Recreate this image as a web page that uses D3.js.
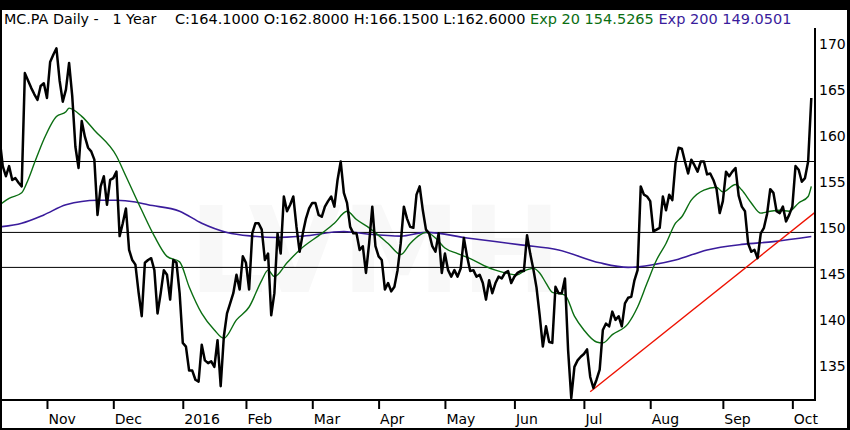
<!DOCTYPE html>
<html>
<head>
<meta charset="utf-8">
<script src="https://cdn.jsdelivr.net/npm/d3@7"></script>
<style>
  body { margin: 0; background: #000; }
  svg { display: block; }
  text { font-family: "DejaVu Sans", sans-serif; }
</style>
</head>
<body>
<svg id="chart" width="850" height="430"></svg>
<script>
// trading calendar (Euronext Paris)
const startDate = "2015-10-12";
const holidays = ["2015-12-25", "2016-01-01", "2016-03-25", "2016-03-28"];

// daily closes
const closes = [
  159.7, 156.7, 155.6, 156.7, 155.2, 155.4, 154.9, 154.5, 166.8, 166.0,
  165.2, 164.5, 163.9, 165.4, 165.7, 164.1, 168.0, 168.8, 169.5, 166.0,
  163.7, 165.0, 167.9, 164.3, 158.8, 156.5, 161.6, 159.9, 158.7, 158.3,
  157.4, 151.4, 154.5, 155.6, 152.5, 155.2, 155.4, 156.1, 149.1, 150.5,
  152.1, 147.6, 146.5, 146.0, 143.0, 140.4, 146.2, 146.5, 146.7, 145.4,
  140.7, 142.9, 145.4, 144.9, 142.2, 146.5, 146.2, 142.9, 137.5, 137.1,
  134.5, 134.5, 133.5, 133.3, 137.3, 135.6, 135.3, 135.5, 134.9, 137.8,
  132.8, 138.2, 140.7, 141.8, 142.9, 144.9, 143.3, 146.9, 146.2, 143.3,
  149.4, 150.5, 150.5, 149.8, 146.5, 147.2, 140.5, 142.9, 149.4, 147.2,
  153.4, 151.8, 152.5, 153.4, 150.1, 147.4, 149.4, 151.0, 152.1, 152.7,
  152.7, 151.4, 151.2, 152.3, 152.9, 153.4, 152.3, 155.2, 157.2, 153.8,
  152.7, 150.1, 149.4, 149.4, 147.6, 148.0, 145.1, 148.3, 152.3, 148.0,
  146.9, 146.5, 143.3, 144.0, 143.1, 143.6, 145.4, 148.3, 152.3, 151.0,
  150.1, 150.0, 153.6, 154.5, 151.9, 149.8, 149.4, 148.0, 147.4, 149.4,
  145.1, 147.2, 145.4, 144.7, 145.4, 144.7, 145.6, 148.9, 146.9, 145.3,
  145.4, 144.7, 144.9, 144.0, 142.2, 144.3, 142.9, 144.0, 144.7, 144.5,
  145.1, 145.3, 144.0, 144.7, 145.1, 145.3, 145.3, 149.2, 147.2, 145.5,
  143.5, 140.5, 137.1, 139.3, 137.6, 137.5, 143.6, 142.9, 142.9, 144.5,
  136.7, 131.5, 134.9, 135.6, 136.0, 136.3, 136.8, 133.8, 132.6, 133.5,
  134.6, 138.9, 139.6, 139.3, 140.9, 140.0, 140.4, 139.3, 141.8, 142.4,
  142.5, 144.3, 145.4, 154.5, 153.6, 153.4, 152.9, 149.6, 149.8, 150.0,
  153.4, 151.9, 153.6, 153.0, 157.0, 158.7, 158.6, 157.2, 155.9, 157.4,
  156.8, 156.1, 157.2, 157.2, 155.8, 155.9, 155.2, 154.2, 151.6, 152.9,
  156.1, 155.6, 156.1, 156.5, 153.5, 152.3, 151.8, 148.3, 147.4, 147.6,
  146.7, 149.4, 150.0, 151.5, 154.2, 153.8, 151.8, 151.6, 152.3, 150.7,
  151.4, 152.3, 156.7, 156.3, 155.0, 155.4, 157.2, 164.1
];

// exponential averages, [trading day, value]
const ema20 = [
  [0, 152.5], [3, 153.2], [7, 153.8], [9, 155.2], [11, 157.0], [14, 159.6], [18, 162.1],
  [21, 162.6], [22, 163.0], [26, 162.1], [30, 160.6], [37, 157.8], [40, 155.6], [45, 151.9],
  [49, 149.1], [53, 146.9], [57, 146.3], [60, 143.6], [64, 140.7], [68, 138.9], [71, 138.0],
  [75, 140.0], [79, 141.4], [83, 144.3], [85, 145.4], [87, 144.7], [91, 146.2], [95, 147.6],
  [102, 149.4], [106, 150.5], [110, 151.8], [113, 150.9], [117, 150.0], [123, 148.3],
  [127, 147.1], [130, 148.3], [133, 149.2], [135, 149.5], [138, 148.9], [141, 147.8],
  [145, 147.2], [150, 146.5], [154, 145.8], [157, 145.4], [160, 145.1], [164, 144.9],
  [166, 145.3], [169, 145.6], [171, 145.1], [173, 144.0], [175, 143.0], [179, 142.7],
  [182, 140.4], [185, 138.9], [189, 137.6], [191, 137.5], [194, 138.4], [199, 139.6],
  [202, 141.4], [205, 144.0], [208, 146.5], [211, 148.3], [214, 150.5], [216, 151.2],
  [219, 153.0], [223, 154.1], [227, 154.4], [229, 153.9], [233, 154.7], [235, 154.1],
  [238, 152.7], [241, 151.6], [244, 151.8], [247, 151.9], [250, 151.8], [253, 152.7],
  [256, 153.4], [257, 154.5]
];
const ema200 = [
  [0, 150.1], [7, 150.5], [14, 151.4], [21, 152.5], [31, 153.0], [37, 153.0], [43, 152.8],
  [47, 152.5], [57, 151.8], [64, 150.5], [72, 149.5], [80, 149.1], [88, 148.95], [96, 149.1],
  [109, 149.6], [117, 149.3], [127, 149.1], [135, 149.5], [148, 148.9], [165, 148.15],
  [177, 147.6], [190, 146.2], [199, 145.7], [207, 146.0], [214, 146.5], [224, 147.6],
  [235, 148.2], [245, 148.5], [257, 149.05]
];

// red trend line through the July low and the September low
const trendPts = [[187, 132.2], [240, 146.7]];
// horizontal support / resistance lines
const levels = [157.2, 149.5, 145.7];

const yTicks = [135, 140, 145, 150, 155, 160, 165, 170];
const monthLabels = ["Nov", "Dec", "2016", "Feb", "Mar", "Apr", "May", "Jun", "Jul", "Aug", "Sep", "Oct"];

const ohlcKeys = ["C", "O", "H", "L"];
const ohlcVals = [164.1, 162.8, 166.15, 162.6];
const emaNames = ["Exp 20", "Exp 200"];
const emaLast = [154.5265, 149.0501];

const W = 850, H = 430;
const plot = { left: 2, right: 815, top: 28, bottom: 400 };
const green = "#0b6e12", purple = "#3a1c9c";

const svg = d3.select("#chart");
svg.append("rect").attr("width", W).attr("height", H).attr("fill", "#000");
svg.append("rect").attr("x", 2).attr("y", 10).attr("width", 845).attr("height", 418).attr("fill", "#fff");

// build trading days
const parse = d3.timeParse("%Y-%m-%d"), fmt = d3.timeFormat("%Y-%m-%d");
const days = [];
let cur = parse(startDate);
while (days.length < closes.length) {
  const wd = cur.getDay();
  if (wd !== 0 && wd !== 6 && !holidays.includes(fmt(cur))) days.push(cur);
  cur = d3.timeDay.offset(cur, 1);
}
const monthStarts = d3.range(1, days.length).filter(i => days[i].getMonth() !== days[i - 1].getMonth());

const x = d3.scaleLinear().domain([0, closes.length - 1]).range([-0.4, 811.3]);
const y = d3.scaleLinear().domain([131.3, 171.7]).range([plot.bottom, plot.top]);

svg.append("clipPath").attr("id", "clip")
  .append("rect").attr("x", plot.left).attr("y", plot.top)
  .attr("width", plot.right - plot.left).attr("height", plot.bottom - plot.top);

const g = svg.append("g").attr("clip-path", "url(#clip)");

// faint watermark
g.append("text").attr("x", 375).attr("y", 292).attr("text-anchor", "middle")
  .attr("font-size", 120).attr("font-weight", "bold").attr("fill", "#f8f8f8")
  .text("LVMH");

g.selectAll("line.level").data(levels).enter().append("line")
  .attr("class", "level")
  .attr("x1", plot.left).attr("x2", plot.right)
  .attr("y1", d => y(d)).attr("y2", d => y(d))
  .attr("stroke", "#000").attr("stroke-width", 1);

const smooth = d3.line().x(d => x(d[0])).y(d => y(d[1])).curve(d3.curveMonotoneX);

g.append("path").datum(ema200).attr("d", smooth)
  .attr("fill", "none").attr("stroke", purple).attr("stroke-width", 1.6);
g.append("path").datum(ema20).attr("d", smooth)
  .attr("fill", "none").attr("stroke", green).attr("stroke-width", 1.4);

// trend line extended to the right edge
const slope = (trendPts[1][1] - trendPts[0][1]) / (trendPts[1][0] - trendPts[0][0]);
const dEnd = x.invert(plot.right);
const trendLine = [trendPts[0], [dEnd, trendPts[0][1] + slope * (dEnd - trendPts[0][0])]];
g.append("path").datum(trendLine)
  .attr("d", d3.line().x(d => x(d[0])).y(d => y(d[1])))
  .attr("fill", "none").attr("stroke", "#ee1100").attr("stroke-width", 1.4);

g.append("path").datum(closes)
  .attr("d", d3.line().x((d, i) => x(i)).y(d => y(d)))
  .attr("fill", "none").attr("stroke", "#000").attr("stroke-width", 2.5)
  .attr("stroke-linejoin", "round");

// axes
const xAxis = svg.append("g").attr("transform", `translate(0,${plot.bottom})`)
  .call(d3.axisBottom(x).tickValues(monthStarts).tickSize(9).tickPadding(5)
    .tickFormat((d, i) => monthLabels[i]));
xAxis.select(".domain").remove();
xAxis.selectAll(".tick line").attr("stroke", "#000").attr("stroke-width", 2);
xAxis.selectAll(".tick text").attr("text-anchor", "start").attr("x", 1)
  .attr("font-size", 14).attr("font-family", "DejaVu Sans").attr("fill", "#000");

const yAxis = svg.append("g").attr("transform", `translate(${plot.right},0)`)
  .call(d3.axisRight(y).tickValues(yTicks).tickSize(0).tickPadding(4));
yAxis.select(".domain").remove();
yAxis.selectAll(".tick text").attr("font-size", 14).attr("font-family", "DejaVu Sans").attr("fill", "#000");

svg.append("line").attr("x1", 0).attr("x2", plot.right + 1)
  .attr("y1", plot.bottom).attr("y2", plot.bottom)
  .attr("stroke", "#000").attr("stroke-width", 2);
svg.append("line").attr("x1", plot.right).attr("x2", plot.right)
  .attr("y1", plot.top).attr("y2", plot.bottom)
  .attr("stroke", "#000").attr("stroke-width", 2);

// header
svg.append("text").attr("x", 4).attr("y", 24).attr("font-size", 14.3)
  .style("white-space", "pre").text("MC.PA Daily -   1 Year");
const quote = svg.append("text").attr("x", 175).attr("y", 24).attr("font-size", 14.5)
  .style("white-space", "pre");
quote.append("tspan").attr("fill", "#000")
  .text(ohlcKeys.map((k, i) => k + ":" + ohlcVals[i].toFixed(4)).join(" ") + " ");
quote.append("tspan").attr("fill", green).text(emaNames[0] + " " + emaLast[0].toFixed(4) + " ");
quote.append("tspan").attr("fill", purple).text(emaNames[1] + " " + emaLast[1].toFixed(4));
</script>
</body>
</html>
